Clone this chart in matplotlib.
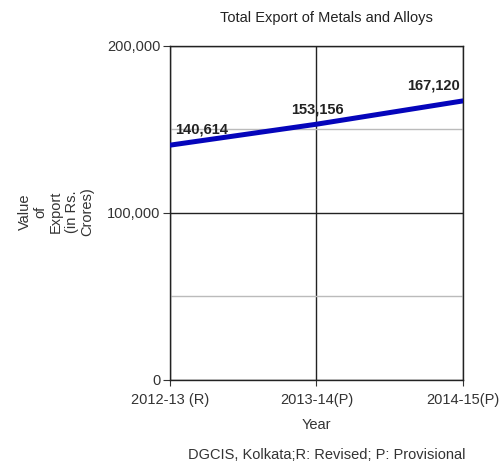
import matplotlib
matplotlib.use("Agg")
import matplotlib.pyplot as plt
from matplotlib.ticker import FuncFormatter, MultipleLocator

plt.rcParams['font.family'] = ['Liberation Sans', 'DejaVu Sans']

years = ['2012-13 (R)', '2013-14(P)', '2014-15(P)']
exports = [140614, 153156, 167120]
label_text = ['140,614', '153,156', '167,120']

fig = plt.figure(figsize=(5.02, 4.65), dpi=100)
ax = fig.add_axes([0.3386, 0.1828, 0.5837, 0.7183])

x = list(range(len(years)))
ax.plot(x, exports, color='#0505bb', linewidth=3.6, solid_capstyle='round', zorder=3)

# data labels (offsets in pixels)
offs = [(5, 16), (-25, 15), (-3, 15)]
has = ['left', 'left', 'right']
for xi, yi, t, o, h in zip(x, exports, label_text, offs, has):
    ax.annotate(t, (xi, yi), xytext=o, textcoords='offset pixels',
                fontsize=10.5, fontweight='bold', color='#222222', ha=h, va='center',
                annotation_clip=False)

ax.set_xlim(0, 2)
ax.set_ylim(0, 200000)
ax.set_xticks(x)
ax.set_xticklabels(years, fontsize=10.5, color='#333333')
ax.yaxis.set_major_locator(MultipleLocator(100000))
ax.yaxis.set_minor_locator(MultipleLocator(50000))
ax.yaxis.set_major_formatter(FuncFormatter(lambda v, p: f'{int(v):,}'))
ax.tick_params(axis='y', labelsize=10.5, labelcolor='#333333', length=5, color='#333333', pad=2)
ax.tick_params(axis='y', which='minor', length=0)
ax.tick_params(axis='x', length=4, color='#333333', pad=5.5)

ax.grid(axis='y', which='major', color='#222222', linewidth=1)
ax.grid(axis='y', which='minor', color='#bbbbbb', linewidth=1)
ax.grid(axis='x', which='major', color='#222222', linewidth=1)
for s in ax.spines.values():
    s.set_color('#222222')
    s.set_linewidth(1)

fig.text(0.65, 0.961, 'Total Export of Metals and Alloys', fontsize=10.5, color='#222222',
         ha='center', va='center')
ax.set_xlabel('Year', fontsize=10.5, color='#333333', labelpad=8)
fig.text(0.112, 0.544, 'Value\nof\nExport\n(in Rs.\nCrores)', rotation=90, fontsize=10.5,
         color='#333333', ha='center', va='center', multialignment='center', linespacing=1.15)
fig.text(0.65, 0.022, 'DGCIS, Kolkata;R: Revised; P: Provisional', fontsize=10.5,
         color='#333333', ha='center', va='center')

fig.savefig('out.png', dpi=100)
